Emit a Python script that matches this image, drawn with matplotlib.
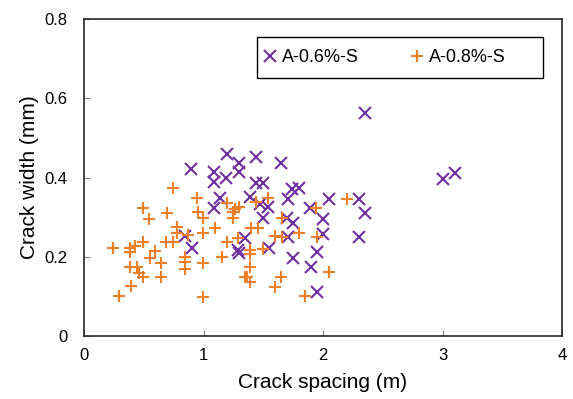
import matplotlib
matplotlib.use("Agg")
import matplotlib.pyplot as plt
from matplotlib.patches import Rectangle

plt.rcParams['font.family'] = ['Liberation Sans', 'DejaVu Sans']

# A-0.6%-S
spacing_06 = [0.895, 1.193, 1.30, 1.438, 1.65, 1.09, 1.19, 1.30, 1.09, 1.438,
              1.494, 1.137, 1.388, 1.09, 1.47, 1.54, 1.50, 1.737, 1.80, 1.71,
              2.05, 2.30, 1.89, 2.355, 2.00, 1.70, 1.75, 0.845, 0.90, 1.346,
              1.29, 1.30, 1.545, 1.71, 2.00, 2.30, 1.745, 1.946, 1.90, 1.946,
              2.35, 3.00, 3.10]
width_06 = [0.422, 0.460, 0.436, 0.451, 0.437, 0.413, 0.398, 0.413, 0.388, 0.386,
            0.386, 0.349, 0.350, 0.324, 0.334, 0.325, 0.298, 0.371, 0.373, 0.346,
            0.346, 0.346, 0.324, 0.310, 0.296, 0.299, 0.285, 0.252, 0.223, 0.248,
            0.218, 0.210, 0.222, 0.250, 0.258, 0.250, 0.198, 0.212, 0.174, 0.111,
            0.562, 0.397, 0.411]

# A-0.8%-S
spacing_08 = [0.741, 0.49, 0.543, 0.691, 0.78, 0.78, 0.245, 0.385, 0.385, 0.426,
              0.49, 0.686, 0.747, 0.594, 0.552, 0.644, 0.385, 0.44, 0.463, 0.49,
              0.644, 0.39, 0.295, 0.955, 0.998, 0.87, 0.998, 1.095, 1.193, 1.29,
              0.845, 0.845, 0.845, 0.998, 1.151, 1.36, 0.998, 0.942, 1.193, 1.263,
              1.30, 1.25, 1.243, 1.443, 1.54, 1.40, 1.457, 1.388, 1.388, 1.494,
              1.597, 1.653, 1.80, 1.946, 1.388, 1.346, 1.388, 1.597, 2.05, 1.647,
              1.85, 2.197, 1.945, 1.653]
width_08 = [0.374, 0.324, 0.296, 0.311, 0.275, 0.260, 0.221, 0.221, 0.212, 0.226,
            0.237, 0.237, 0.237, 0.215, 0.198, 0.184, 0.174, 0.173, 0.159, 0.148,
            0.148, 0.126, 0.101, 0.313, 0.299, 0.255, 0.260, 0.273, 0.237, 0.248,
            0.200, 0.187, 0.170, 0.184, 0.200, 0.148, 0.099, 0.349, 0.337, 0.321,
            0.325, 0.313, 0.299, 0.338, 0.349, 0.273, 0.273, 0.218, 0.208, 0.220,
            0.252, 0.250, 0.260, 0.250, 0.174, 0.149, 0.137, 0.124, 0.162, 0.148,
            0.101, 0.346, 0.324, 0.297]

x_ticks = [0, 1, 2, 3, 4]
y_ticks = [0, 0.2, 0.4, 0.6, 0.8]
y_tick_labels = ["0", "0.2", "0.4", "0.6", "0.8"]

fig = plt.figure(figsize=(5.73, 3.99), dpi=100)
ax = fig.add_axes([0.1466, 0.158, 0.8344, 0.794])

ax.plot(spacing_06, width_06, linestyle="none", marker="x", markersize=9,
        markeredgewidth=1.5, color="#7030A0", label="A-0.6%-S")
ax.plot(spacing_08, width_08, linestyle="none", marker="+", markersize=8,
        markeredgewidth=1.5, color="#F07F2A", label="A-0.8%-S")

ax.set_xlim(0, 4)
ax.set_ylim(0, 0.8)
ax.set_xticks(x_ticks)
ax.set_yticks(y_ticks)
ax.set_yticklabels(y_tick_labels)
ax.tick_params(direction="in", length=4, color="#808080", labelsize=12)
ax.tick_params(axis="x", pad=9)
ax.tick_params(axis="y", pad=12)

for spine in ax.spines.values():
    spine.set_color("#262626")
    spine.set_linewidth(1.2)

ax.set_xlabel("Crack spacing (m)", fontsize=15, labelpad=7)
ax.set_ylabel("Crack width (mm)", fontsize=15, labelpad=4)

# legend box drawn separately so it can be wider than its entries (like Excel)
box = Rectangle((0.362, 0.814), 0.598, 0.129, transform=ax.transAxes,
                facecolor="white", edgecolor="black", linewidth=1.0, zorder=4)
ax.add_patch(box)

legend = ax.legend(loc="center left", bbox_to_anchor=(0.355, 0.8785), ncol=2,
                   fontsize=13, frameon=False, borderaxespad=0,
                   handletextpad=0.35, columnspacing=2.95, handlelength=0.6,
                   borderpad=0.6)
legend.set_zorder(5)

fig.savefig("out.png", dpi=100)
